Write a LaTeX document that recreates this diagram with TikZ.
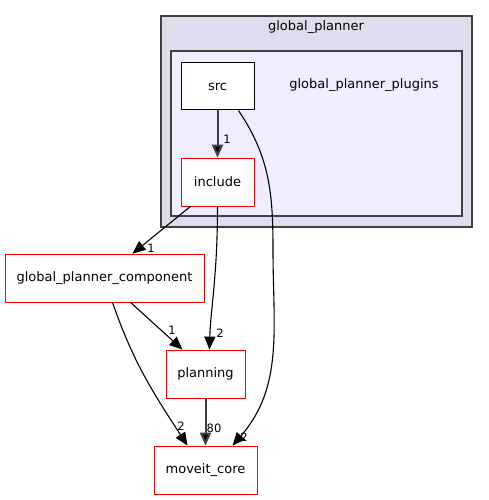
\documentclass[tikz,border=0pt]{standalone}
\usepackage{fontspec}
\setmainfont{DejaVu Sans}
\usetikzlibrary{arrows.meta,calc}

\definecolor{outerfill}{HTML}{DDDDEE}
\definecolor{innerfill}{HTML}{EEEEFF}
\definecolor{frame}{HTML}{404040}

\tikzset{
  dirbox/.style={draw=red,fill=white,line width=0.8pt,minimum height=48pt,inner sep=0pt,font=\fontsize{13}{15}\selectfont},
  srcbox/.style={dirbox,draw=black,line width=1pt},
  clusterbox/.style={draw=frame,line width=1.4pt,inner sep=0pt},
  dep/.style={-{Triangle[length=13pt,width=11pt,fill=black]},line width=1.1pt,draw=black},
  heavydep/.style={-{Triangle[length=13pt,width=11pt,fill=black]},line width=2pt,draw=frame},
  num/.style={font=\fontsize{11.5}{12}\selectfont,inner sep=0pt},
  cluslabel/.style={font=\fontsize{13}{15}\selectfont,inner sep=0pt}
}

\begin{document}
\begin{tikzpicture}[x=1pt,y=1pt]
\useasboundingbox[fill=white] (0,0) rectangle (489,-500);

% clusters
\node[clusterbox,fill=outerfill,minimum width=311pt,minimum height=211pt] (gp) at (316.5,-121.5) {};
\node[cluslabel] (gplabel) at (316,-27) {global\_planner};
\node[clusterbox,fill=innerfill,minimum width=291pt,minimum height=165pt] (gpp) at (316.5,-133.5) {};
\node[cluslabel] (gpplabel) at (364,-85) {global\_planner\_plugins};

% directories
\node[srcbox,minimum width=73pt,minimum height=47pt] (src) at (217.5,-86.5) {src};
\node[dirbox,minimum width=73pt] (include) at (217.5,-182) {include};
\node[dirbox,minimum width=199pt] (component) at (104.5,-278) {global\_planner\_component};
\node[dirbox,minimum width=79pt] (planning) at (205.5,-374) {planning};
\node[dirbox,minimum width=103pt] (moveit) at (205.5,-470) {moveit\_core};

% dependencies
\draw[heavydep] (src.south) -- (include.north);
\node[num] (n1) at (227,-139) {1};

\draw[dep] ($(src.south)+(21,0)$) to[out=-56,in=90] (273,-250)
  to[out=-90,in=49] ($(moveit.north)+(27,0)$);
\node[num] (n2) at (244,-437) {2};

\draw[dep] ($(include.south)+(-27,0)$) -- ($(component.north)+(28,0)$);
\node[num] (n3) at (151,-248) {1};

\draw[dep] (include.south) .. controls +(0,-70) and +(1,40) .. ($(planning.north)+(4,0)$);
\node[num] (n4) at (220,-333) {2};

\draw[dep] ($(component.south)+(26,0)$) -- ($(planning.north)+(-23,0)$);
\node[num] (n5) at (172,-330) {1};

\draw[dep] ($(component.south)+(8,0)$) to[out=-71,in=123] ($(moveit.north)+(-18,0)$);
\node[num] (n6) at (181,-426) {2};

\draw[heavydep] (planning.south) -- (moveit.north);
\node[num] (n7) at (214,-428) {80};
\end{tikzpicture}
\end{document}
